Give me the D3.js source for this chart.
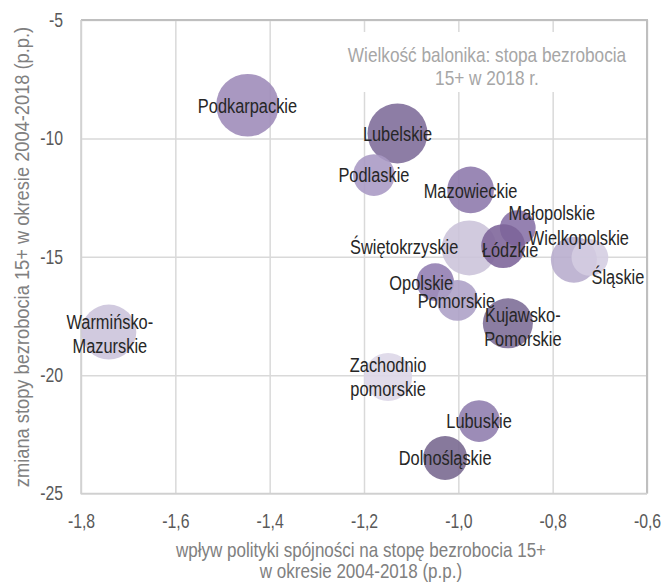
<!DOCTYPE html>
<html>
<head>
<meta charset="utf-8">
<script src="https://cdn.jsdelivr.net/npm/d3@7"></script>
<style>
  body { margin: 0; background: #fff; }
  svg text { font-family: 'Liberation Sans', Arial, sans-serif; }
</style>
</head>
<body>
<div id="chart"></div>
<script>
// województwa i wartości
const regiony = [
  'Podkarpackie', 'Lubelskie', 'Podlaskie', 'Mazowieckie', 'Świętokrzyskie',
  'Małopolskie', 'Łódzkie', 'Wielkopolskie', 'Śląskie', 'Opolskie', 'Pomorskie',
  'Kujawsko-\nPomorskie', 'Zachodnio\npomorskie', 'Lubuskie', 'Dolnośląskie',
  'Warmińsko-\nMazurskie'
]
// wpływ polityki spójności (p.p.)
const wplyw = [-1.447, -1.129, -1.179, -0.974, -0.977, -0.874, -0.905, -0.755, -0.721,
  -1.049, -1.002, -0.895, -1.149, -0.956, -1.028, -1.741]
// zmiana stopy bezrobocia 2004-2018 (p.p.)
const zmiana = [-8.6, -9.79, -11.55, -12.18, -14.63, -13.79, -14.55, -15.13, -15.03,
  -16.07, -16.84, -17.81, -20.08, -21.94, -23.5, -18.18]
// stopa bezrobocia 15+ w 2018 r. (wielkość balonika)
const stopa = [6.1, 5.6, 2.7, 3.4, 4.7, 2.0, 3.0, 3.3, 2.1, 2.2, 2.6, 3.9, 3.6, 2.7, 3.0, 4.7]

const xTicks = [-1.8, -1.6, -1.4, -1.2, -1.0, -0.8, -0.6]
const yTicks = [-25, -20, -15, -10, -5]

const kolory = ['#9d8ab8', '#7d6b98', '#a899c4', '#8c78ab', '#cbc3da', '#8670a6', '#7c6399',
  '#b7accd', '#d4cde1', '#917cb1', '#ac9fc6', '#7b6b95', '#dcd6e7', '#8e7cad', '#76678e', '#cbc3db']

// przesunięcia etykiet względem środka balonika (px)
const labelShift = {
  'Mazowieckie': [0, 1],
  'Małopolskie': [34, -15],
  'Świętokrzyskie': [-65, -1],
  'Łódzkie': [7, 4],
  'Wielkopolskie': [5, -22],
  'Śląskie': [28, 19],
  'Opolskie': [-14, 1],
  'Pomorskie': [-1, 0],
  'Kujawsko-\nPomorskie': [15, 3],
  'Warmińsko-\nMazurskie': [1, 2]
}

const width = 663
const height = 583
const margin = { top: 20, right: 16, bottom: 89.5, left: 81 }
const plotW = width - margin.left - margin.right
const plotH = height - margin.top - margin.bottom
const NARROW = 0.81

const locale = d3.formatLocale({ decimal: ',', thousands: ' ', grouping: [3], currency: ['', ''], minus: '-' })
const fmtX = locale.format('.1f')
const fmtY = locale.format('d')

// zwężenie tekstu (jak Arial Narrow) wokół jego punktu x
function narrow (sel, k = NARROW) {
  sel.each(function () {
    const t = d3.select(this)
    const x = +t.attr('x') || 0
    t.attr('transform', `translate(${x},0) scale(${k},1) translate(${-x},0)`)
  })
}

const data = regiony.map((r, i) => ({ name: r, x: wplyw[i], y: zmiana[i], s: stopa[i], color: kolory[i] }))

const svg = d3.select('#chart')
  .append('svg')
  .attr('width', width)
  .attr('height', height)

const xScale = d3.scaleLinear().domain([-1.8, -0.6]).range([margin.left, margin.left + plotW])
const yScale = d3.scaleLinear().domain([-25, -5]).range([margin.top + plotH, margin.top])
const rScale = d3.scaleSqrt().domain([0, d3.max(stopa)]).range([0, 31.3])

// siatka + etykiety osi
svg.append('g')
  .attr('transform', `translate(0,${margin.top + plotH})`)
  .call(d3.axisBottom(xScale).tickValues(xTicks).tickSize(-plotH).tickPadding(21).tickFormat(fmtX))
svg.append('g')
  .attr('transform', `translate(${margin.left},0)`)
  .call(d3.axisLeft(yScale).tickValues(yTicks).tickSize(-plotW).tickPadding(18).tickFormat(fmtY))

svg.selectAll('.domain').remove()
svg.selectAll('.tick line').attr('stroke', '#d9d9d9').attr('stroke-width', 1.5)
svg.selectAll('.tick text')
  .attr('fill', '#595959')
  .style('font-size', '19.5px')
  .call(narrow)

// ramka: górna i prawa krawędź ciemniejsza
svg.append('path')
  .attr('d', `M${margin.left},${margin.top}H${margin.left + plotW}V${margin.top + plotH}`)
  .attr('fill', 'none')
  .attr('stroke', '#bfbfbf')
  .attr('stroke-width', 2)
svg.append('path')
  .attr('d', `M${margin.left},${margin.top}V${margin.top + plotH}H${margin.left + plotW}`)
  .attr('fill', 'none')
  .attr('stroke', '#d0d0d0')
  .attr('stroke-width', 1.5)

// opis wielkości balonika (z białym tłem)
svg.append('rect')
  .attr('x', 340)
  .attr('y', 32)
  .attr('width', 296)
  .attr('height', 60)
  .attr('fill', '#fff')
const note = svg.append('text')
  .attr('x', 487)
  .attr('y', 55)
  .attr('text-anchor', 'middle')
  .attr('fill', '#a6a6a6')
  .style('font-size', '21px')
note.append('tspan').attr('x', 487).attr('dy', '0.35em').text('Wielkość balonika: stopa bezrobocia')
note.append('tspan').attr('x', 487).attr('dy', 23).text('15+ w 2018 r.')
note.call(narrow, 0.82)

// baloniki
svg.append('g')
  .selectAll('circle')
  .data(data)
  .enter()
  .append('circle')
  .attr('cx', d => xScale(d.x))
  .attr('cy', d => yScale(d.y))
  .attr('r', d => rScale(d.s))
  .attr('fill', d => d.color)
  .attr('fill-opacity', 0.88)

// etykiety województw
svg.append('g')
  .selectAll('text')
  .data(data)
  .enter()
  .append('text')
  .attr('text-anchor', 'middle')
  .attr('fill', '#262626')
  .style('font-size', '21px')
  .each(function (d) {
    const lines = d.name.split('\n')
    const shift = labelShift[d.name] || [0, 0]
    const cx = xScale(d.x) + shift[0]
    const cy = yScale(d.y) + shift[1] - (lines.length - 1) * 12
    const t = d3.select(this).attr('x', cx)
    lines.forEach((line, i) => {
      t.append('tspan')
        .attr('x', cx)
        .attr('y', cy + i * 24)
        .attr('dy', '0.35em')
        .text(line)
    })
  })
  .call(narrow, 0.78)

// tytuły osi
const xTitle = svg.append('text')
  .attr('x', 361)
  .attr('text-anchor', 'middle')
  .attr('fill', '#808080')
  .style('font-size', '20.5px')
xTitle.append('tspan').attr('x', 361).attr('y', 550).attr('dy', '0.35em')
  .text('wpływ polityki spójności na stopę bezrobocia 15+')
xTitle.append('tspan').attr('x', 361).attr('y', 571).attr('dy', '0.35em')
  .text('w okresie 2004-2018 (p.p.)')
xTitle.call(narrow, 0.83)

svg.append('text')
  .attr('transform', `translate(22,257) rotate(-90) scale(0.87,1)`)
  .attr('text-anchor', 'middle')
  .attr('dy', '0.35em')
  .attr('fill', '#808080')
  .style('font-size', '21px')
  .text('zmiana stopy bezrobocia 15+ w okresie 2004-2018 (p.p.)')
</script>
</body>
</html>
